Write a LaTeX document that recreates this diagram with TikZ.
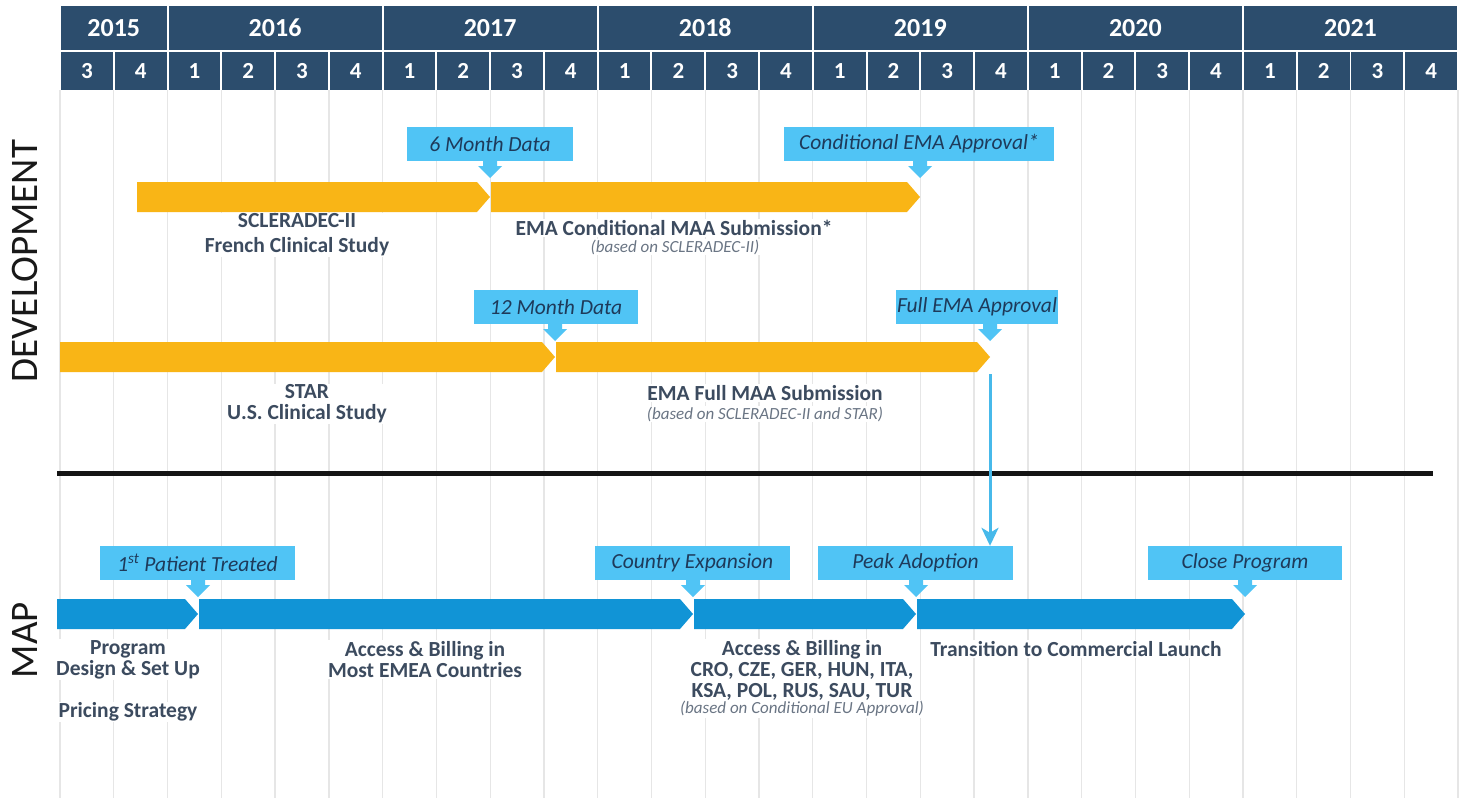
\documentclass[tikz,border=0pt]{standalone}
\usepackage{fontspec}
\setmainfont{Carlito}
\usetikzlibrary{arrows.meta}
\definecolor{hdr}{HTML}{2C4D6D}
\definecolor{gold}{HTML}{F9B516}
\definecolor{cblue}{HTML}{50C4F5}
\definecolor{mblue}{HTML}{1194D6}
\definecolor{lbl}{HTML}{3C4B5F}
\definecolor{ctext}{HTML}{1E3A5A}
\definecolor{subt}{HTML}{6A7584}
\definecolor{gridc}{HTML}{E6E6E6}
\definecolor{arrowc}{HTML}{47B9EA}
\newcommand\tlbar[4]{\fill[#4] (#1,#3) -- ({#2-13},#3) -- (#2,{#3+15}) -- ({#2-13},{#3+30}) -- (#1,{#3+30}) -- cycle;}
\newcommand\ptr[2]{\fill[cblue] ({#1-7},#2) -- ({#1+7},#2) -- ({#1+7},{#2+5}) -- ({#1+12},{#2+5}) -- (#1,{#2+17}) -- ({#1-12},{#2+5}) -- ({#1-7},{#2+5}) -- cycle;}
\begin{document}
\begin{tikzpicture}[x=1pt,y=-1pt,
  ycell/.style={fill=hdr, inner sep=0, text=white, minimum height=44pt, font=\bfseries\fontsize{26}{28}\selectfont},
  qcell/.style={fill=hdr, inner sep=0, text=white, minimum height=38pt, minimum width=51.8pt, font=\bfseries\fontsize{23}{25}\selectfont},
  cbox/.style={fill=cblue, text=ctext, inner sep=0, minimum height=34pt, font=\itshape\fontsize{21.5}{23}\selectfont},
  lab/.style={text=lbl, align=center, fill=white, inner sep=1pt, font=\bfseries\fontsize{21.5}{21}\selectfont},
  sub/.style={text=subt, align=center, fill=white, inner sep=1pt, font=\itshape\fontsize{17}{19}\selectfont},
  side/.style={rotate=90, text=black!90, inner sep=0, font=\fontsize{39}{41}\selectfont},
  gridline/.style={draw=gridc, line width=1.3pt}
]
\useasboundingbox (0,0) rectangle (1468,798);
\fill[white] (0,0) rectangle (1468,798);
% grid
\foreach \i in {0,...,26}{
  \draw[gridline] ({60+53.77*\i},90) -- ({60+53.77*\i},798);
}
% header years
\foreach \a/\b/\yr in {0/2/2015,2/6/2016,6/10/2017,10/14/2018,14/18/2019,18/22/2020,22/26/2021}{
  \pgfmathsetmacro\ycellw{53.77*(\b-\a)-2}
  \node[ycell, minimum width=\ycellw pt] (y\yr) at ({60+53.77*(\a+\b)/2},28) {\yr};
}
% header quarters
\foreach \i in {0,...,25}{
  \pgfmathtruncatemacro\qn{mod(\i+2,4)+1}
  \node[qcell] (q\i) at ({60+53.77*(\i+0.5)},71) {\qn};
}
% side labels
\node[side] (dev) at (25,261) {DEVELOPMENT};
\node[side] (map) at (25,640) {MAP};
% divider
\coordinate (divL) at (57,473);
\coordinate (divR) at (1433,473);
\draw[line width=5pt, black!92] (divL) -- (divR);
% development bars
\tlbar{137}{490}{182}{gold}
\tlbar{491}{920}{182}{gold}
\tlbar{60}{555}{342}{gold}
\tlbar{556}{990}{342}{gold}
% map bars
\tlbar{57}{198}{599}{mblue}
\tlbar{199}{693}{599}{mblue}
\tlbar{694}{916}{599}{mblue}
\tlbar{917}{1245}{599}{mblue}
% callouts
\node[cbox, minimum width=166pt] (c6m) at (490,144) {6 Month Data};
\ptr{490}{161}
\node[cbox, minimum width=270pt] (ccond) at (919,144) {Conditional EMA Approval*};
\ptr{920}{161}
\node[cbox, minimum width=164pt] (c12m) at (556,307) {12 Month Data};
\ptr{555}{324}
\node[cbox, minimum width=162pt] (cfull) at (977,307) {Full EMA Approval};
\ptr{990}{324}
\node[cbox, minimum width=195pt] (cfirst) at (197.5,563) {1\textsuperscript{st} Patient Treated};
\ptr{198}{580}
\node[cbox, minimum width=195pt] (ccountry) at (692.5,563) {Country Expansion};
\ptr{693}{580}
\node[cbox, minimum width=195pt] (cpeak) at (915.5,563) {Peak Adoption};
\ptr{916}{580}
\node[cbox, minimum width=194pt] (cclose) at (1245,563) {Close Program};
\ptr{1245}{580}
% arrow from Full EMA Approval to Peak Adoption
\coordinate (fullTip) at (990,374);
\draw[arrowc, line width=3pt, -{Stealth[width=17pt,length=18pt,inset=5pt]}] (fullTip) -- (cpeak.north -| fullTip);
% development labels
\node[lab, font=\bfseries\fontsize{21.5}{25}\selectfont] (lscl) at (297,235) {SCLERADEC-II\\French Clinical Study};
\node[lab] (lemac) at (674,228) {EMA Conditional MAA Submission*};
\node[sub] (lemacs) at (675,247) {(based on SCLERADEC-II)};
\node[lab] (lstar) at (307,404) {STAR\\U.S. Clinical Study};
\node[lab] (lemaf) at (765,393) {EMA Full MAA Submission};
\node[sub] (lemafs) at (765,414) {(based on SCLERADEC-II and STAR)};
% map labels
\node[lab] (lprog) at (128,659.5) {Program\\Design \& Set Up};
\node[lab] (lpric) at (128,712) {Pricing Strategy};
\node[lab] (lacc1) at (425,659.5) {Access \& Billing in\\Most EMEA Countries};
\node[lab] (lacc2) at (802,670) {Access \& Billing in\\CRO, CZE, GER, HUN, ITA,\\KSA, POL, RUS, SAU, TUR};
\node[sub] (lacc2s) at (802,709) {(based on Conditional EU Approval)};
\node[lab] (ltrans) at (1076,649) {Transition to Commercial Launch};
\end{tikzpicture}
\end{document}
